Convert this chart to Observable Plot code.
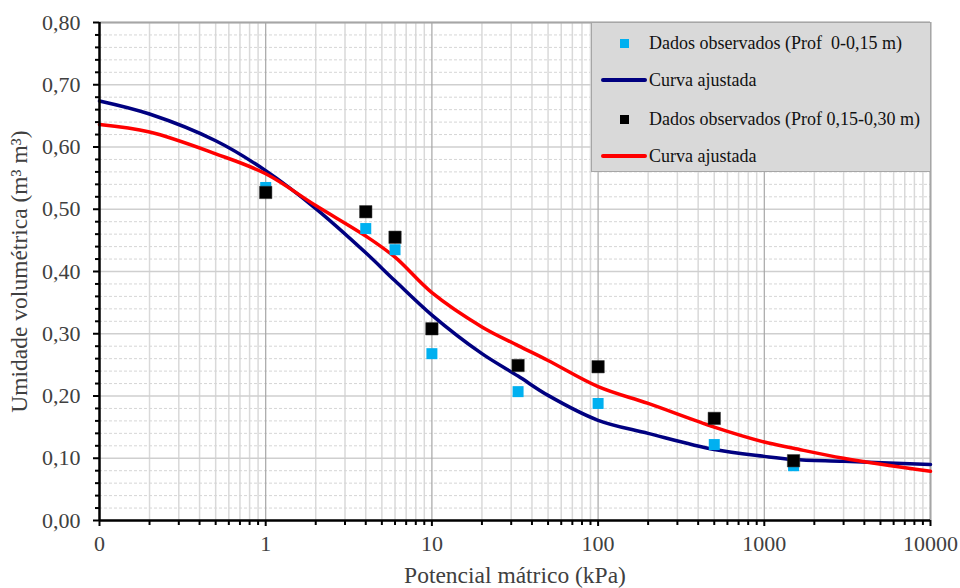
<!DOCTYPE html>
<html>
<head>
<meta charset="utf-8">
<script src="https://cdn.jsdelivr.net/npm/d3@7"></script>
<script src="https://cdn.jsdelivr.net/npm/@observablehq/plot@0.6"></script>
<style>
  html, body { margin: 0; padding: 0; background: #fff; }
  #wrap { position: relative; width: 960px; height: 588px; font-family: "Liberation Serif", "Times New Roman", serif; }
  #wrap svg, #wrap svg text { font-family: "Liberation Serif", "Times New Roman", serif !important; }
  #legend { position: absolute; left: 591px; top: 22px; width: 340px; height: 150px;
            background: #d9d9d9; border: 1px solid #a6a6a6; box-sizing: border-box; }
  .row { position: absolute; left: 0; height: 24px; width: 340px; }
  .row span.t { position: absolute; left: 57px; top: 0; font-size: 18px; line-height: 24px; color: #111; white-space: pre;
                font-family: "Liberation Serif", "Times New Roman", serif; }
  .sq { position: absolute; left: 28px; top: 8px; width: 9px; height: 9px; }
  .ln { position: absolute; left: 9px; top: 10px; width: 46px; height: 4px; border-radius: 2px; }
</style>
</head>
<body>
<div id="wrap"><div id="legend"></div></div>
<script>
// Observed data (matric potential, kPa) and volumetric water content
const pressao = [1, 4, 6, 10, 33, 100, 500, 1500];
const theta0_15 = [0.535, 0.469, 0.435, 0.268, 0.207, 0.188, 0.122, 0.088];
const theta15_30 = [0.527, 0.496, 0.455, 0.308, 0.249, 0.247, 0.164, 0.096];

// Fitted curves
const curvaX = [0.1, 0.2, 0.5, 1, 2, 4, 6, 10, 20, 33, 50, 100, 200, 500, 1000, 1500, 3000, 10000];
const curva0_15 = [0.674, 0.653, 0.610, 0.562, 0.501, 0.430, 0.385, 0.330, 0.268, 0.232, 0.201, 0.161, 0.140, 0.114, 0.103, 0.098, 0.095, 0.090];
const curva15_30 = [0.636, 0.624, 0.589, 0.557, 0.506, 0.457, 0.423, 0.366, 0.311, 0.281, 0.257, 0.215, 0.188, 0.150, 0.126, 0.116, 0.100, 0.079];

// Ticks
const xTicks = [0.1, 1, 10, 100, 1000, 10000];
const xTickLabels = ["0", "1", "10", "100", "1000", "10000"];
const yTicks = [0, 0.1, 0.2, 0.3, 0.4, 0.5, 0.6, 0.7, 0.8];
const yTickLabels = ["0,00", "0,10", "0,20", "0,30", "0,40", "0,50", "0,60", "0,70", "0,80"];
const xTitle = "Potencial mátrico (kPa)";
const yTitle = "Umidade volumétrica (m³ m³)";

const legendItems = [
  {label: "Dados observados (Prof  0-0,15 m)", kind: "sq", color: "#00b0f0"},
  {label: "Curva ajustada", kind: "ln", color: "#000080"},
  {label: "Dados observados (Prof 0,15-0,30 m)", kind: "sq", color: "#000000"},
  {label: "Curva ajustada", kind: "ln", color: "#ff0000"}
];

const FONT = "Liberation Serif";

// minor grid positions
const minorX = [];
for (const d of [0.1, 1, 10, 100, 1000]) for (let k = 2; k <= 9; k++) minorX.push(+(d * k).toPrecision(6));
const minorY = d3.range(0, 41).map(i => +(i * 0.02).toFixed(2)).filter(v => Math.round(v * 100) % 10 !== 0);

const obs1 = pressao.map((x, i) => ({x, y: theta0_15[i]}));
const obs2 = pressao.map((x, i) => ({x, y: theta15_30[i]}));
const fit1 = curvaX.map((x, i) => ({x, y: curva0_15[i]}));
const fit2 = curvaX.map((x, i) => ({x, y: curva15_30[i]}));

const chart = Plot.plot({
  width: 960,
  height: 588,
  marginLeft: 99,
  marginRight: 30,
  marginTop: 22,
  marginBottom: 68,
  style: {fontFamily: FONT, background: "white", color: "#404040", overflow: "visible"},
  x: {type: "log", domain: [0.1, 10000]},
  y: {domain: [0, 0.8]},
  marks: [
    Plot.ruleX(minorX, {stroke: "#d9d9d9", strokeWidth: 1.5}),
    Plot.ruleY(minorY, {stroke: "#d6d6d6", strokeWidth: 1, strokeDasharray: "3,2"}),
    Plot.ruleY(yTicks, {stroke: "#cfcfcf", strokeWidth: 1.5}),
    Plot.ruleX(xTicks, {stroke: "#a6a6a6", strokeWidth: 1.2}),
    Plot.ruleY([0.8], {stroke: "#a6a6a6", strokeWidth: 2}),
    Plot.ruleX([10000], {stroke: "#a6a6a6", strokeWidth: 2}),
    Plot.line(fit1, {x: "x", y: "y", stroke: "#000080", strokeWidth: 3.5, curve: "catmull-rom"}),
    Plot.line(fit2, {x: "x", y: "y", stroke: "#ff0000", strokeWidth: 3.5, curve: "catmull-rom"}),
    Plot.dot(obs1, {x: "x", y: "y", symbol: "square", r: 6.2, fill: "#00b0f0", stroke: null}),
    Plot.dot(obs2, {x: "x", y: "y", symbol: "square", r: 7, fill: "#000000", stroke: "#333", strokeWidth: 0.5}),
    Plot.axisY({ticks: minorY, tickSize: 4, tickFormat: () => "", label: null, stroke: "black", strokeWidth: 2}),
    Plot.axisY({ticks: yTicks, tickSize: 6, tickPadding: 13, tickFormat: d => yTickLabels[yTicks.indexOf(d)],
                fontSize: 22, fontFamily: FONT, fill: "#404040", stroke: "black", strokeWidth: 2, label: null}),
    Plot.axisY({ticks: [], tickSize: 0, fontSize: 23.5, fontFamily: FONT, fill: "#404040",
                label: yTitle, labelAnchor: "center", labelArrow: "none", labelOffset: 89}),
    Plot.axisX({ticks: minorX, tickSize: 5, tickFormat: () => "", label: null, stroke: "black", strokeWidth: 2}),
    Plot.axisX({ticks: xTicks, tickSize: 6, tickPadding: 9, tickFormat: d => xTickLabels[xTicks.indexOf(d)],
                fontSize: 22, fontFamily: FONT, fill: "#404040", stroke: "black", strokeWidth: 2, label: null}),
    Plot.axisX({ticks: [], tickSize: 0, fontSize: 23.5, fontFamily: FONT, fill: "#404040",
                label: xTitle, labelAnchor: "center", labelArrow: "none", labelOffset: 62}),
    Plot.ruleY([0], {stroke: "black", strokeWidth: 2.5}),
    Plot.ruleX([0.1], {stroke: "black", strokeWidth: 2.5})
  ]
});
document.getElementById("wrap").prepend(chart);

const leg = document.getElementById("legend");
const rowTops = [8, 45, 84, 121];
legendItems.forEach((it, i) => {
  const row = document.createElement("div");
  row.className = "row";
  row.style.top = rowTops[i] + "px";
  const m = document.createElement("div");
  m.className = it.kind;
  m.style.background = it.color;
  row.appendChild(m);
  const t = document.createElement("span");
  t.className = "t";
  t.textContent = it.label;
  row.appendChild(t);
  leg.appendChild(row);
});
</script>
</body>
</html>
